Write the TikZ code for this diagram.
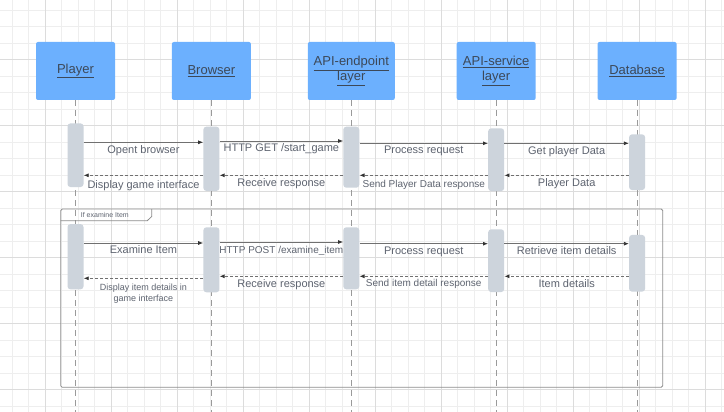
\documentclass[tikz,border=0pt]{standalone}
\usepackage{fontspec}
\setmainfont{Liberation Sans}
\usetikzlibrary{arrows.meta,positioning,calc}
\pgfdeclarelayer{background}
\pgfsetlayers{background,main}

\definecolor{boxblue}{HTML}{6CB0FE}
\definecolor{headtext}{HTML}{3C4858}
\definecolor{actgray}{HTML}{CDD4DC}
\definecolor{msgtext}{HTML}{5E6470}
\definecolor{msgline}{HTML}{707070}
\definecolor{tipcolor}{HTML}{333333}
\definecolor{lifegray}{HTML}{9A9A9A}
\definecolor{framegray}{HTML}{8C8C8C}
\definecolor{gridminor}{HTML}{EEEEEE}
\definecolor{gridmajor}{HTML}{DCDCDC}

\begin{document}
\begin{tikzpicture}[x=1pt,y=1pt]

  \tikzstyle{every node}=[font=\fontsize{11pt}{13pt}\selectfont, text=msgtext]

  \tikzset{entity/.style={rectangle, rounded corners=2pt, fill=boxblue,
      minimum width=79pt, minimum height=58pt, inner sep=0pt, align=center,
      text=headtext, font=\fontsize{13pt}{15pt}\selectfont}}
  \tikzset{lifeline/.style={draw=lifegray, line width=0.8pt, dash pattern=on 6pt off 4pt}}
  \tikzset{actbar/.style={rectangle, rounded corners=3pt, fill=actgray,
      minimum width=16pt, inner sep=0pt}}
  \tikzset{msg/.style={draw=msgline, line width=0.8pt,
      -{Latex[length=5pt,width=4pt,color=tipcolor]}}}
  \tikzset{reply/.style={msg, dash pattern=on 3pt off 2pt}}
  \tikzset{msglabel/.style={midway, anchor=north, yshift=-1.5pt, inner sep=1pt}}
  \tikzset{frameline/.style={draw=framegray, line width=0.8pt}}

  \useasboundingbox (0,0) rectangle (724,-412);

  % Background grid
  \begin{pgfonlayer}{background}
    \fill[white] (0,0) rectangle (724,-412);
    \draw[gridminor, line width=0.8pt, step=16.5pt, shift={(12,-10)}] (-12,10) grid (712,-402);
    \draw[gridmajor, line width=0.8pt, step=66pt, shift={(45,-59.5)}] (-45,59.5) grid (679,-352.5);
  \end{pgfonlayer}

  % Entities
  \node[entity] (Player) at (75.5,-71) {\underline{Player}};
  \node[entity, right=56.5pt of Player] (Browser) {\underline{Browser}};
  \node[entity, minimum width=87pt, right=56.5pt of Browser] (API endpoint)
    {\underline{API-endpoint}\\\underline{layer}};
  \node[entity, right=61.5pt of API endpoint] (API service)
    {\underline{API-service}\\\underline{layer}};
  \node[entity, right=61.5pt of API service] (Database) {\underline{Database}};

  % Timelines
  \coordinate (bottom) at (0,-412);
  \draw[lifeline] (Player.south) -- (Player.south |- bottom);
  \draw[lifeline] (Browser.south) -- (Browser.south |- bottom);
  \draw[lifeline] (API endpoint.south) -- (API endpoint.south |- bottom);
  \draw[lifeline] (API service.south) -- (API service.south |- bottom);
  \draw[lifeline] (Database.south) -- (Database.south |- bottom);

  % Frame for the examine item case
  \coordinate (frame nw) at (60.7,-209);
  \coordinate (frame se) at (662.7,-387.3);
  \draw[frameline, rounded corners=1.5pt] (frame nw) rectangle (frame se);
  \draw[frameline] ($(frame nw) + (0,-11.7)$) -- ($(frame nw) + (86.6,-11.7)$)
    -- ($(frame nw) + (91,-7.5)$) -- ($(frame nw) + (91,0)$);
  \node[anchor=west, inner sep=0pt, font=\fontsize{7pt}{8pt}\selectfont]
    (frame label) at ($(frame nw) + (20,-5.5)$) {If examine Item};

  % Activations, start of the game
  \node[actbar, minimum height=63.7pt] (Player act1) at (Player |- 0,-155.2) {};
  \node[actbar, minimum height=64.3pt] (Browser act1) at (Browser |- 0,-158.8) {};
  \node[actbar, minimum height=61pt] (API endpoint act1) at (API endpoint |- 0,-157.2) {};
  \node[actbar, minimum height=62.7pt] (API service act1) at (API service |- 0,-159.7) {};
  \node[actbar, minimum height=55.7pt] (Database act1) at (Database |- 0,-162.2) {};

  % Requests
  \draw[msg] (Player act1.east |- 0,-142.3) -- (Browser act1.west |- 0,-142.3)
    node[msglabel] {Opent browser};
  \draw[msg] (Browser act1.east |- 0,-141) -- (API endpoint act1.west |- 0,-141)
    node[msglabel] {HTTP GET /start\_game};
  \draw[msg] (API endpoint act1.east |- 0,-143.3) -- (API service act1.west |- 0,-143.3)
    node[msglabel] {Process request};
  \draw[msg] (API service act1.east |- 0,-143.3) -- (Database act1.west |- 0,-143.3)
    node[msglabel] {Get player Data};

  % Responses
  \draw[reply] (Database act1.west |- 0,-175.3) -- (API service act1.east |- 0,-175.3)
    node[msglabel] {Player Data};
  \draw[reply] (API service act1.west |- 0,-175.3) -- (API endpoint act1.east |- 0,-175.3)
    node[msglabel, yshift=-2pt, font=\fontsize{10pt}{12pt}\selectfont] {Send Player Data response};
  \draw[reply] (API endpoint act1.west |- 0,-175.3) -- (Browser act1.east |- 0,-175.3)
    node[msglabel] {Receive response};
  \draw[reply] (Browser act1.west |- 0,-175.3) -- (Player act1.east |- 0,-175.3)
    node[msglabel, yshift=-2pt] {Display game interface};

  % Activations, examine item
  \node[actbar, minimum height=65.3pt] (Player act2) at (Player |- 0,-256.7) {};
  \node[actbar, minimum height=65pt] (Browser act2) at (Browser |- 0,-259.8) {};
  \node[actbar, minimum height=62pt] (API endpoint act2) at (API endpoint |- 0,-258.3) {};
  \node[actbar, minimum height=62.7pt] (API service act2) at (API service |- 0,-260.7) {};
  \node[actbar, minimum height=56.7pt] (Database act2) at (Database |- 0,-263.3) {};

  % Requests
  \draw[msg] (Player act2.east |- 0,-243) -- (Browser act2.west |- 0,-243)
    node[msglabel] {Examine Item};
  \draw[msg] (Browser act2.east |- 0,-242) -- (API endpoint act2.west |- 0,-242)
    node[msglabel, yshift=-1pt, font=\fontsize{10pt}{12pt}\selectfont] {HTTP POST /examine\_item};
  \draw[msg] (API endpoint act2.east |- 0,-243.7) -- (API service act2.west |- 0,-243.7)
    node[msglabel] {Process request};
  \draw[msg] (API service act2.east |- 0,-243.7) -- (Database act2.west |- 0,-243.7)
    node[msglabel] {Retrieve item details};

  % Responses
  \draw[reply] (Database act2.west |- 0,-276.3) -- (API service act2.east |- 0,-276.3)
    node[msglabel] {Item details};
  \draw[reply] (API service act2.west |- 0,-276.3) -- (API endpoint act2.east |- 0,-276.3)
    node[msglabel, font=\fontsize{10pt}{12pt}\selectfont] {Send item detail response};
  \draw[reply] (API endpoint act2.west |- 0,-276.3) -- (Browser act2.east |- 0,-276.3)
    node[msglabel] {Receive response};
  \draw[reply] (Browser act2.west |- 0,-278.3) -- (Player act2.east |- 0,-278.3)
    node[msglabel, yshift=-3pt, align=center, font=\fontsize{9pt}{11pt}\selectfont]
    {Display item details in\\game interface};

\end{tikzpicture}
\end{document}
